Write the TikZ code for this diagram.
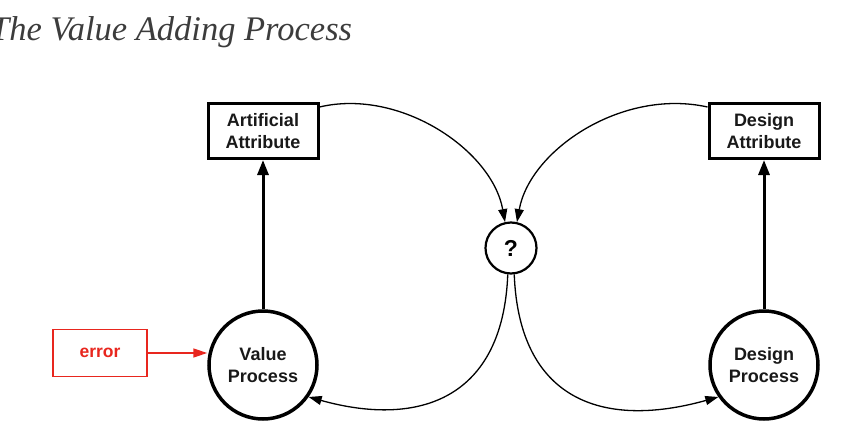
\documentclass[tikz,border=0pt]{standalone}
\usepackage{fontspec}
\setmainfont{Liberation Serif}
\newfontfamily\labelfont{Liberation Sans}
\usetikzlibrary{arrows.meta}
\definecolor{errred}{HTML}{E8261E}
\definecolor{titlegray}{HTML}{3C3C3C}
\begin{document}
\begin{tikzpicture}[x=1pt,y=-1pt,
  lbl/.style={font=\labelfont\bfseries\fontsize{18}{22}\selectfont, align=center, text=black!90},
  attrbox/.style={lbl, draw, line width=3pt, minimum width=110pt, minimum height=55pt, inner sep=0pt},
  procnode/.style={lbl, circle, draw, line width=3.5pt, minimum size=108pt, inner sep=0pt},
  qnode/.style={circle, draw, line width=2.2pt, minimum size=51pt, inner sep=0pt,
    font=\labelfont\bfseries\fontsize{23}{23}\selectfont},
  errbox/.style={draw=errred, text=errred, line width=1.8pt, minimum width=94pt, minimum height=47pt,
    inner sep=0pt, font=\labelfont\bfseries\fontsize{17.5}{17.5}\selectfont},
  uplink/.style={line width=3pt, -{Triangle[length=15pt, width=11pt]}},
  flow/.style={line width=1.3pt, -{Triangle[length=13pt, width=9pt]}},
  errlink/.style={draw=errred, line width=1.6pt, -{Triangle[length=14pt, width=9pt]}, errred},
]
\useasboundingbox (0,0) rectangle (849,447);

% title
\node[anchor=base west, inner sep=0pt, text=titlegray,
  font=\itshape\fontsize{34.5}{34.5}\selectfont] (title) at (-10,40) {The Value Adding Process};

% attributes and processes
\node[attrbox] (aa) at (263,131) {Artificial\\Attribute};
\node[attrbox] (da) at (764,131) {Design\\Attribute};
\node[procnode] (vp) at (263,365) {Value\\Process};
\node[procnode] (dp) at (764,365) {Design\\Process};
\node[qnode] (q) at (511,248) {?};
\node[errbox] (err) at (100,353) {error};

% each process feeds its attribute
\draw[uplink] (vp.north) -- (aa.south);
\draw[uplink] (dp.north) -- (da.south);

% error input
\draw[errlink] (err.east) -- (vp.west |- err.east);

% attributes meet at the question
\draw[flow] ([yshift=-5pt]aa.north east) .. controls (400,88) and (492,150) .. (q.103);
\draw[flow] ([yshift=-5pt]da.north west) .. controls (622,88) and (530,150) .. (q.77);

% the question feeds back into both processes
\draw[flow] (q.-97) .. controls (503,398) and (420,428) .. (vp.-35);
\draw[flow] (q.-83) .. controls (519,398) and (600,430) .. (dp.215);
\end{tikzpicture}
\end{document}
